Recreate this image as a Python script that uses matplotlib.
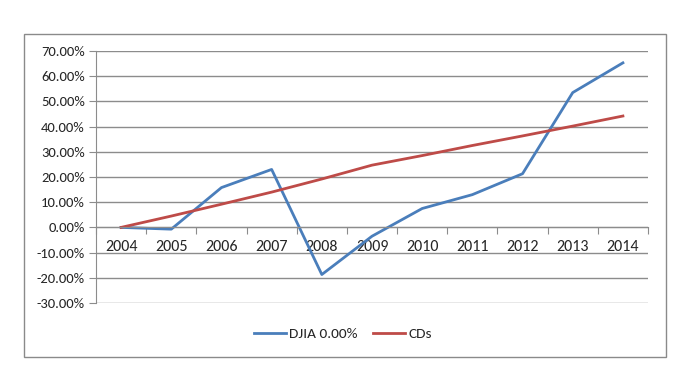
import matplotlib
matplotlib.use("Agg")
import matplotlib.pyplot as plt
from matplotlib.patches import Rectangle
from matplotlib.lines import Line2D
from matplotlib.ticker import FixedLocator

plt.rcParams['font.family'] = ['Carlito', 'Lato', 'Open Sans', 'DejaVu Sans']

years = ['2004', '2005', '2006', '2007', '2008', '2009', '2010', '2011', '2012', '2013', '2014']
djia = [0.0, -0.7, 15.8, 23.0, -18.7, -3.5, 7.5, 13.0, 21.3, 53.5, 65.3]
cds = [0.0, 4.5, 9.2, 14.0, 19.2, 24.7, 28.5, 32.5, 36.3, 40.2, 44.2]
yticks = [-30, -20, -10, 0, 10, 20, 30, 40, 50, 60, 70]

blue = '#4A7EBB'
red = '#BE4B48'
grid = '#8C8C8C'
txt = '#262626'

fig = plt.figure(figsize=(6.84, 3.89), dpi=100)
fig.patch.set_facecolor('white')
fig.patches.append(Rectangle((24/684, 1-357/389), (666-24)/684, (357-34)/389,
                             transform=fig.transFigure, fill=False,
                             edgecolor='#8A8A8A', linewidth=1.0))

ax = fig.add_axes([96/684, 1-303/389, (648-96)/684, (303-51)/389])
x = list(range(len(years)))
ax.plot(x, djia, color=blue, linewidth=2.0)
ax.plot(x, cds, color=red, linewidth=2.0)

ax.set_xlim(-0.5, len(years)-0.5)
ax.set_ylim(-30, 70)
ax.set_yticks(yticks)
ax.set_yticklabels([f'{v:.2f}%' for v in yticks])
ax.yaxis.grid(True, color=grid, linewidth=1.0)
ax.set_axisbelow(True)

for s in ['top', 'right']:
    ax.spines[s].set_visible(False)
ax.spines['left'].set_color(grid)
ax.spines['bottom'].set_color(grid)
ax.spines['bottom'].set_position(('data', 0))

ax.xaxis.set_major_locator(FixedLocator([i - 0.5 for i in range(len(years)+1)]))
ax.xaxis.set_minor_locator(FixedLocator(x))
ax.set_xticklabels([], minor=False)
ax.set_xticklabels(years, minor=True)
ax.tick_params(axis='x', which='major', length=5, color=grid, direction='out')
ax.tick_params(axis='x', which='minor', length=0, pad=9, labelsize=11.5, labelcolor=txt)
ax.tick_params(axis='y', length=5, color=grid, direction='out', labelsize=10.5, labelcolor=txt, pad=3)

handles = [Line2D([0], [0], color=blue, linewidth=2.0), Line2D([0], [0], color=red, linewidth=2.0)]
leg = fig.legend(handles, ['DJIA 0.00%', 'CDs'], loc='center', bbox_to_anchor=(343/684, 1-334/389),
                 ncol=2, frameon=False, fontsize=11, handlelength=2.1, handletextpad=0.2,
                 columnspacing=1.0, labelcolor=txt)

fig.savefig('out.png', dpi=100)
